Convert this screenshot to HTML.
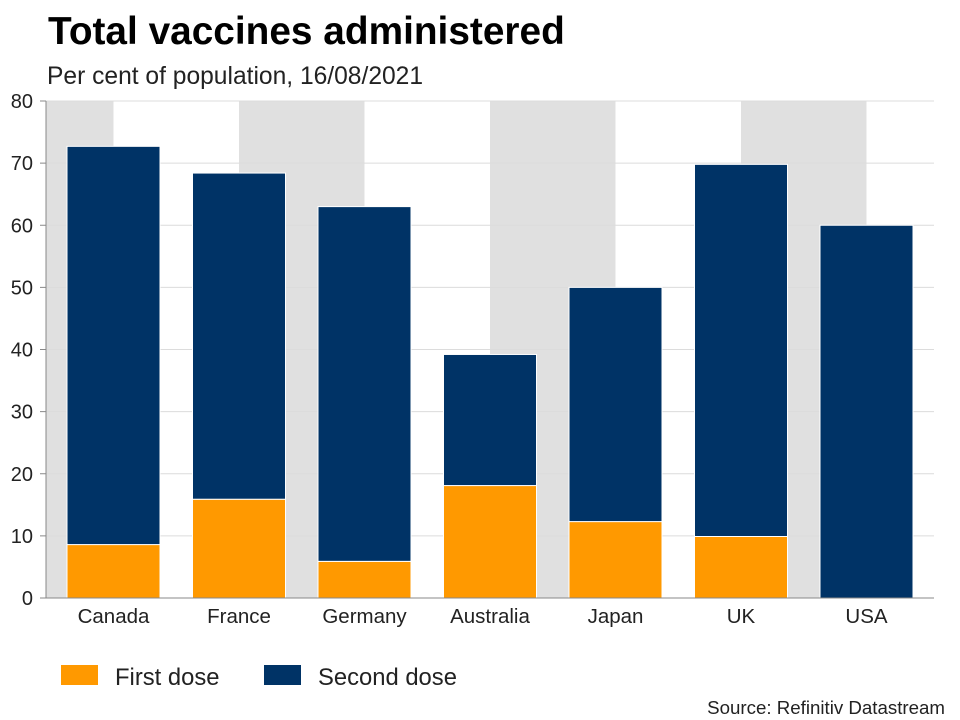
<!DOCTYPE html>
<html><head><meta charset="utf-8"><style>
body{margin:0;background:#fff;font-family:"Liberation Sans",Arial,sans-serif;}
svg{display:block}
</style></head><body>
<svg id="chart" width="960" height="720">
<text x="48" y="44" font-size="38.8" font-weight="bold" fill="#000">Total vaccines administered</text>
<text x="47" y="84" font-size="24.6" fill="#222">Per cent of population, 16/08/2021</text>
<g id="plot"></g>
<g>
<rect x="61" y="665" width="37" height="20" fill="#ff9900"/>
<text x="115" y="685" font-size="23.8" fill="#222">First dose</text>
<rect x="264" y="665" width="37" height="20" fill="#003366"/>
<text x="318" y="685" font-size="23.8" fill="#222">Second dose</text>
</g>
<text x="945" y="714" font-size="18.7" fill="#222" text-anchor="end">Source: Refinitiv Datastream</text>
</svg>
<script>
const categories=["Canada","France","Germany","Australia","Japan","UK","USA"];
const firstDose=[8.6,15.9,5.9,18.1,12.3,9.9,0];
const secondDose=[64.1,52.5,57.1,21.1,37.7,59.9,60];
const yTicks=[0,10,20,30,40,50,60,70,80];
const NS="http://www.w3.org/2000/svg";
const g=document.getElementById('plot');
const L=46,R=934,T=101,B=598,yMax=80;
const step=125.5,c0=113.5,bw=93;
const y=v=>B-(v/yMax)*(B-T);
const x=i=>c0+i*step;
function mk(t,a){const e=document.createElementNS(NS,t);for(const k in a)e.setAttribute(k,a[k]);g.appendChild(e);return e;}
let r=mk('rect',{x:L,y:T,width:x(0)-L,height:B-T,fill:'#e0e0e0'});


for(let i=1;i+1<categories.length;i+=2){
 const s=mk('rect',{x:x(i),y:T,width:x(i+1)-x(i),height:B-T,fill:'#e0e0e0'});
 
 
}
yTicks.forEach(t=>{
 const gl=mk('line',{x1:L,x2:R,y1:y(t),y2:y(t),stroke:'#dcdcdc','stroke-width':1});
 
 
 const tk=mk('line',{x1:L-6,x2:L,y1:y(t),y2:y(t),stroke:'#888'});
 
 
 const tl=mk('text',{x:L-13,y:y(t)+7,'font-size':20,'text-anchor':'end',fill:'#222'});
 tl.textContent=t;
 
 
});
categories.forEach((c,i)=>{
 const f=firstDose[i],s=secondDose[i];
 const b1=mk('rect',{x:x(i)-bw/2,y:y(f),width:bw,height:y(0)-y(f),fill:'#ff9900',stroke:'#fff','stroke-width':1});
 
 
 const b2=mk('rect',{x:x(i)-bw/2,y:y(f+s),width:bw,height:y(f)-y(f+s),fill:'#003366',stroke:'#fff','stroke-width':1});
 
 
 const lb=mk('text',{x:x(i),y:623,'font-size':20.5,'text-anchor':'middle',fill:'#222'});
 lb.textContent=c;
 
 
});
const ax=mk('line',{x1:L,x2:L,y1:T,y2:B,stroke:'#888'});


const bx=mk('line',{x1:L,x2:R,y1:B,y2:B,stroke:'#888'});


</script>
</body></html>
